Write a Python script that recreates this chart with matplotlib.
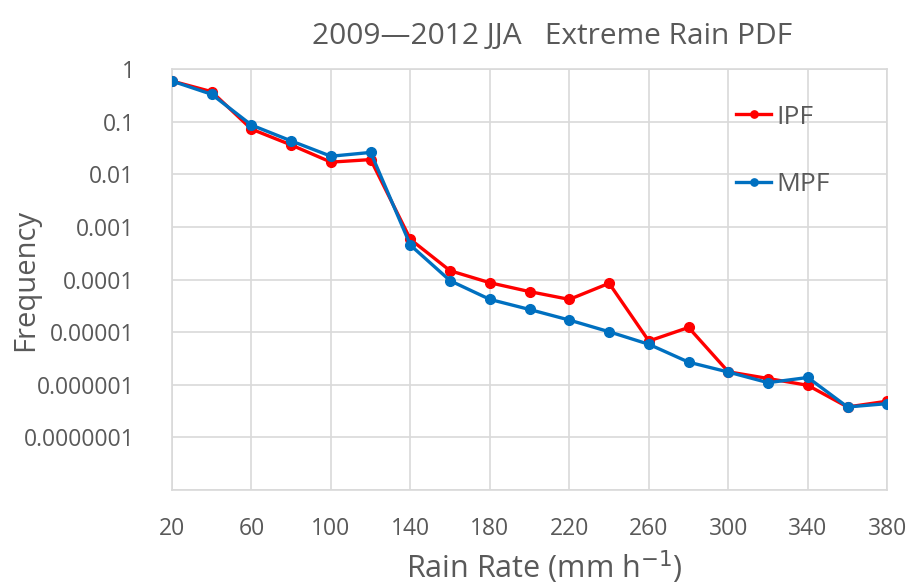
import matplotlib
matplotlib.use("Agg")
import matplotlib.pyplot as plt
from matplotlib.ticker import FixedLocator, NullLocator

plt.rcParams["font.family"] = ["Open Sans", "DejaVu Sans"]

# Data
rain_rate = [20, 40, 60, 80, 100, 120, 140, 160, 180, 200,
             220, 240, 260, 280, 300, 320, 340, 360, 380]
ipf = [0.59, 0.37, 0.072, 0.036, 0.017, 0.019, 0.00058, 0.000147, 8.7e-5, 5.9e-5,
       4.2e-5, 8.5e-5, 6.8e-6, 1.23e-5, 1.77e-6, 1.32e-6, 9.8e-7, 3.8e-7, 4.9e-7]
mpf = [0.59, 0.33, 0.086, 0.043, 0.022, 0.026, 0.00045, 9.5e-5, 4.2e-5, 2.7e-5,
       1.7e-5, 1.02e-5, 5.9e-6, 2.7e-6, 1.75e-6, 1.1e-6, 1.38e-6, 3.8e-7, 4.4e-7]

x_ticks = [20, 60, 100, 140, 180, 220, 260, 300, 340, 380]
y_ticks = [1, 0.1, 0.01, 0.001, 0.0001, 0.00001, 0.000001, 0.0000001, 0.00000001]
y_labels = ["1", "0.1", "0.01", "0.001", "0.0001", "0.00001", "0.000001", "0.0000001", ""]

text_color = "#595959"
grid_color = "#D9D9D9"

fig = plt.figure(figsize=(9.1, 5.87), dpi=100)
ax = fig.add_axes([0.189, 0.165, 0.786, 0.7175])

ax.plot(rain_rate, ipf, color="#FF0000", lw=2.4, marker="o", ms=7, label="IPF", zorder=3)
ax.plot(rain_rate, mpf, color="#0070C0", lw=2.4, marker="o", ms=7, label="MPF", zorder=4)

ax.set_yscale("log")
ax.set_xlim(20, 380)
ax.set_ylim(1e-8, 1)

ax.xaxis.set_major_locator(FixedLocator(x_ticks))
ax.yaxis.set_major_locator(FixedLocator(y_ticks))
ax.yaxis.set_minor_locator(NullLocator())
ax.set_yticklabels(y_labels)

ax.tick_params(axis="both", length=0, labelsize=16.5, labelcolor=text_color)
ax.tick_params(axis="x", pad=19)
ax.tick_params(axis="y", pad=27)

ax.grid(True, color=grid_color, lw=1.2)
ax.set_axisbelow(True)
for s in ax.spines.values():
    s.set_color(grid_color)
    s.set_linewidth(1.2)

ax.set_title("2009\u20142012 JJA   Extreme Rain PDF", fontsize=21.5, color=text_color,
             pad=18, x=0.532)
ax.set_xlabel("Rain Rate (mm h$^{-1}$)", fontsize=22, color=text_color)
ax.xaxis.set_label_coords(0.52, -0.183)
ax.xaxis.label.set_va("center")
ax.set_ylabel("Frequency", fontsize=21, color=text_color)
ax.yaxis.set_label_coords(-0.185, 0.5)

leg = ax.legend(loc="upper left", bbox_to_anchor=(0.756, 0.972), frameon=False,
                fontsize=19, labelcolor=text_color, handlelength=1.3, handletextpad=0.2,
                labelspacing=1.62, markerscale=0.75)

fig.savefig("out.png", dpi=100)
